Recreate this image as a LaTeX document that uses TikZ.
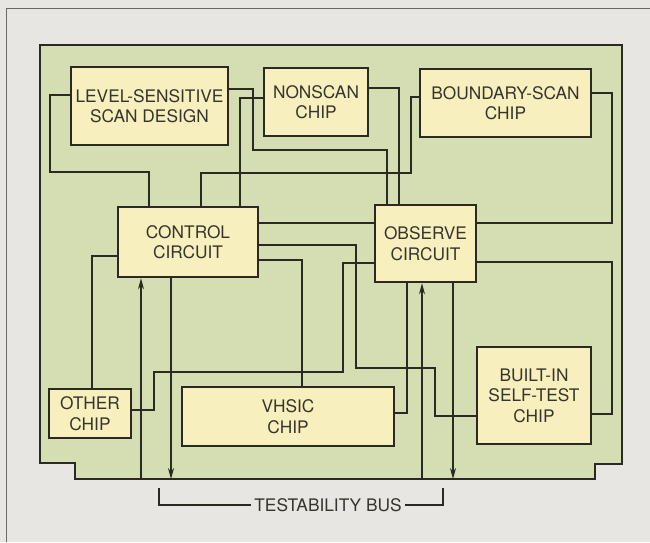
\documentclass[tikz,border=0pt]{standalone}
\usepackage{fontspec}
\setmainfont{TeX Gyre Heros}
\usetikzlibrary{arrows.meta}
\definecolor{paper}{HTML}{E7E6E2}
\definecolor{board}{HTML}{D5DDB2}
\definecolor{chip}{HTML}{F8EFBE}
\definecolor{ink}{HTML}{2A2A22}

\begin{document}
\begin{tikzpicture}[x=1pt,y=-1pt,
  chip/.style={draw=ink,fill=chip,line width=2.5pt,align=center,inner sep=0pt,
    text=ink!95,font=\fontsize{17.3}{20.5}\selectfont},
  wire/.style={draw=ink,line width=1.5pt},
  busarrow/.style={wire,-{Stealth[length=11pt,width=6pt]}}]
  % Page and board
  \useasboundingbox (0,0) rectangle (650,542);
  \fill[paper] (0,0) rectangle (650,542);
  \draw[ink!70,line width=0.9pt] (6,542) -- (6,8) -- (650,8);
  \filldraw[fill=board,draw=ink,line width=2.3pt] (40,45) -- (622,45) -- (622,464) -- (595,464)
    -- (595,479) -- (75,479) -- (75,463) -- (40,463) -- cycle;
  \coordinate (bus) at (0,479);

  % Chips
  \node[chip,minimum width=157,minimum height=78] (lssd) at (149.5,106) {LEVEL-SENSITIVE\\SCAN DESIGN};
  \node[chip,minimum width=104,minimum height=68] (nonscan) at (316,102) {NONSCAN\\CHIP};
  \node[chip,minimum width=171,minimum height=68] (bscan) at (505.5,103) {BOUNDARY-SCAN\\CHIP};
  \node[chip,minimum width=140,minimum height=70] (ctrl) at (188,242) {CONTROL\\CIRCUIT};
  \node[chip,minimum width=101,minimum height=77] (obs) at (425.5,243.5) {OBSERVE\\CIRCUIT};
  \node[chip,minimum width=82,minimum height=49] (other) at (90,413.5) {OTHER\\CHIP};
  \node[chip,minimum width=212,minimum height=59] (vhsic) at (288,416.5) {VHSIC\\CHIP};
  \node[chip,minimum width=114,minimum height=97] (bist) at (534,395.5) {BUILT-IN\\SELF-TEST\\CHIP};

  % Wires from the top row
  \draw[wire] (lssd.west |- 0,95) -| (50,172) -| (ctrl.north -| 149,0);
  \draw[wire] (lssd.east |- 0,89) -| (253,150) -| (obs.north -| 387,0);
  \draw[wire] (nonscan.west |- 0,98) -| (ctrl.north -| 240,0);
  \draw[wire] (nonscan.east |- 0,88) -| (obs.north -| 399,0);
  \draw[wire] (bscan.west |- 0,97) -| (411,173) -| (ctrl.north -| 201,0);
  \draw[wire] (bscan.east |- 0,93) -| (612,223) -- (obs.east |- 0,223);

  % Wires between the circuits and the lower chips
  \draw[wire] (ctrl.east |- 0,223) -- (obs.west |- 0,223);
  \draw[wire] (ctrl.east |- 0,245) -| (356,368) -| (435,416) -- (bist.west |- 0,416);
  \draw[wire] (ctrl.east |- 0,260) -| (vhsic.north -| 302,0);
  \draw[wire] (obs.west |- 0,263) -| (343,372) -| (154,410) -- (other.east |- 0,410);
  \draw[wire] (ctrl.west |- 0,256) -| (other.north -| 92,0);
  \draw[wire] (obs.south -| 407,0) |- (vhsic.east |- 0,413);
  \draw[wire] (obs.east |- 0,262) -| (612,414) -- (bist.east |- 0,414);

  % Testability bus
  \draw[busarrow] (bus -| 141,0) -- (ctrl.south -| 141,0);
  \draw[busarrow] (ctrl.south -| 171,0) -- (bus -| 171,0);
  \draw[busarrow] (bus -| 422,0) -- (obs.south -| 422,0);
  \draw[busarrow] (obs.south -| 453,0) -- (bus -| 453,0);
  \node[text=ink!95,font=\fontsize{17.3}{20.5}\selectfont,inner sep=3pt] (buslabel) at (328,505) {TESTABILITY BUS};
  \coordinate (bracketL) at (159,488);
  \coordinate (bracketR) at (443,488);
  \draw[wire,line width=1.2pt] (buslabel.west) -| (bracketL);
  \draw[wire,line width=1.2pt] (buslabel.east) -| (bracketR);
\end{tikzpicture}
\end{document}
